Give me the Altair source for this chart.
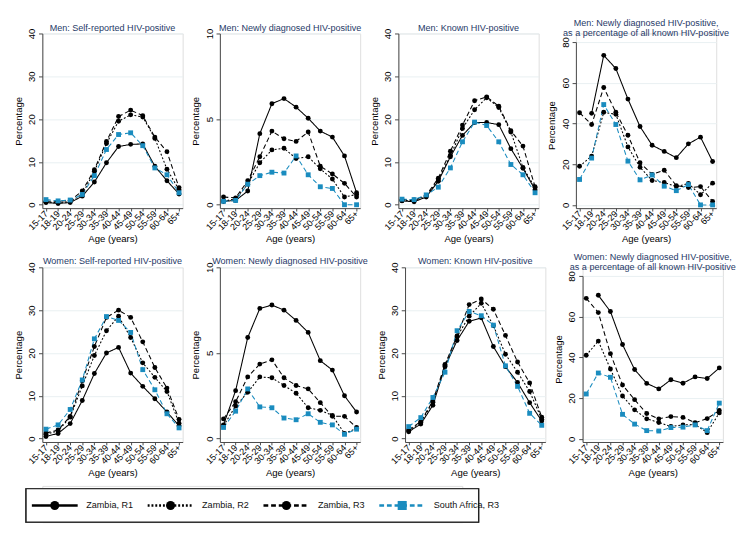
import altair as alt
import pandas as pd

ages = ["15-17", "18-19", "20-24", "25-29", "30-34", "35-39",
        "40-44", "45-49", "50-54", "55-59", "60-64", "65+"]
series_names = ["Zambia, R1", "Zambia, R2", "Zambia, R3", "South Africa, R3"]
colors = ["#000000", "#000000", "#000000", "#1a8cbf"]
dashes = [[1, 0], [2, 2], [5, 3], [5, 3]]
shapes = ["circle", "circle", "circle", "square"]

# Men: Self-reported HIV-positive
men_self_r1 = [0.5, 0.3, 0.5, 2.0, 5.3, 9.8, 13.6, 14.1, 14.2, 9.0, 5.6, 2.5]
men_self_r2 = [0.6, 0.5, 0.7, 2.5, 7.8, 14.3, 19.5, 21.0, 20.5, 15.5, 8.3, 3.5]
men_self_r3 = [0.8, 0.8, 1.0, 3.2, 8.2, 14.8, 20.6, 22.1, 20.8, 15.8, 12.4, 4.0]
men_self_sa = [1.2, 0.9, 1.1, 2.4, 6.8, 12.9, 16.4, 16.8, 13.8, 8.6, 7.0, 2.8]

# Men: Newly diagnosed HIV-positive
men_new_r1 = [0.2, 0.25, 0.8, 4.15, 5.9, 6.2, 5.7, 5.05, 4.3, 3.95, 2.85, 0.7]
men_new_r2 = [0.2, 0.35, 1.2, 2.45, 3.2, 3.3, 2.7, 2.8, 2.1, 1.5, 0.45, 0.6]
men_new_r3 = [0.45, 0.4, 1.4, 2.8, 4.3, 3.85, 3.7, 4.25, 2.25, 1.8, 1.25, 0.45]
men_new_sa = [0.2, 0.25, 1.2, 1.7, 1.9, 1.85, 2.85, 1.75, 1.05, 0.95, 0.0, 0.0]

# Men: Known HIV-positive
men_known_r1 = [0.9, 0.7, 1.8, 5.5, 11.2, 16.2, 19.2, 19.2, 18.7, 13.1, 8.5, 3.5]
men_known_r2 = [1.0, 1.0, 2.0, 5.8, 11.5, 17.8, 22.2, 25.0, 22.7, 17.0, 8.7, 4.0]
men_known_r3 = [1.2, 1.1, 2.2, 6.2, 12.5, 18.6, 24.3, 25.2, 23.0, 17.3, 13.7, 4.2]
men_known_sa = [1.3, 1.2, 2.3, 4.1, 8.6, 14.7, 19.3, 18.5, 14.7, 9.4, 7.0, 2.8]

# Men: Newly diagnosed as % of all known
men_pct_r1 = [None, 45.0, 73.5, 67.0, 52.0, 38.5, 29.3, 26.3, 23.2, 30.0, 33.3, 21.3]
men_pct_r2 = [19.0, 24.0, 45.5, 44.5, 28.5, 18.5, 12.0, 11.0, 9.0, 10.5, 5.0, 10.7]
men_pct_r3 = [45.3, 39.5, 57.7, 45.5, 34.2, 20.7, 15.0, 17.0, 9.5, 8.5, 9.0, 1.7]
men_pct_sa = [12.5, 23.0, 49.3, 39.5, 21.5, 12.3, 14.7, 9.2, 7.0, 10.0, 0.0, 0.0]

# Women: Self-reported HIV-positive
wom_self_r1 = [0.5, 1.2, 3.5, 8.9, 15.2, 20.0, 21.3, 15.3, 12.2, 9.3, 6.2, 3.0]
wom_self_r2 = [1.0, 1.8, 5.0, 12.3, 19.4, 25.2, 28.6, 23.6, 17.7, 14.3, 11.0, 3.6]
wom_self_r3 = [1.3, 2.0, 5.2, 13.5, 21.5, 28.3, 30.0, 28.3, 22.6, 16.6, 11.8, 4.5]
wom_self_sa = [2.2, 3.2, 6.8, 13.7, 23.3, 28.5, 27.6, 24.8, 16.1, 11.4, 5.8, 2.5]

# Women: Newly diagnosed HIV-positive
wom_new_r1 = [0.8, 2.8, 5.9, 7.6, 7.8, 7.5, 6.9, 6.2, 4.55, 4.0, 2.5, 1.55]
wom_new_r2 = [0.75, 1.9, 2.7, 3.6, 3.55, 3.1, 2.65, 1.8, 1.65, 1.35, 0.3, 0.6]
wom_new_r3 = [1.15, 2.15, 3.6, 4.35, 4.6, 3.55, 3.1, 2.9, 2.1, 1.3, 1.3, 0.65]
wom_new_sa = [0.65, 1.6, 2.9, 1.85, 1.8, 1.2, 1.1, 1.45, 0.95, 0.8, 0.25, 0.55]

# Women: Known HIV-positive
wom_known_r1 = [1.6, 3.4, 7.8, 16.8, 22.9, 27.4, 28.2, 21.5, 16.8, 13.1, 8.4, 4.1]
wom_known_r2 = [1.8, 3.8, 8.5, 17.0, 23.8, 28.6, 31.6, 26.4, 19.7, 15.5, 11.0, 4.5]
wom_known_r3 = [2.0, 4.0, 8.8, 17.3, 24.0, 31.3, 32.6, 30.2, 24.1, 17.9, 13.0, 5.0]
wom_known_sa = [2.8, 4.9, 9.6, 15.5, 25.2, 29.7, 28.7, 26.5, 17.0, 12.2, 5.9, 3.1]

# Women: Newly diagnosed as % of all known
wom_pct_r1 = [None, 70.5, 62.5, 46.3, 34.0, 27.2, 24.5, 29.0, 27.3, 30.4, 29.6, 34.8]
wom_pct_r2 = [41.0, 48.0, 34.3, 21.0, 14.2, 9.8, 8.0, 6.0, 6.8, 7.0, 3.0, 12.7]
wom_pct_r3 = [69.0, 62.0, 41.8, 26.4, 19.2, 12.4, 9.8, 10.9, 10.5, 7.9, 9.9, 13.9]
wom_pct_sa = [22.0, 32.3, 30.2, 12.0, 7.2, 4.0, 3.8, 5.5, 5.7, 6.8, 4.0, 17.5]

FONT = "Liberation Sans Narrow, Liberation Sans, Arial, sans-serif"
TITLE_COLOR = "#1f3a68"
GRID = "#e8eff1"

color_scale = alt.Scale(domain=series_names, range=colors)
dash_scale = alt.Scale(domain=series_names, range=dashes)
shape_scale = alt.Scale(domain=series_names, range=shapes)

W = 147
H = 183


def panel(title, ymax, tick_step, values, two_line=False):
    rows = []
    for name, vals in zip(series_names, values):
        for a, v in zip(ages, vals):
            if v is not None:
                rows.append({"age": a, "series": name, "value": v})
    df = pd.DataFrame(rows)
    ticks = [tick_step * i for i in range(int(round(ymax / tick_step)) + 1)]
    x = alt.X("age:N", sort=ages,
              scale=alt.Scale(type="point", padding=0.3),
              axis=alt.Axis(title="Age (years)", labelAngle=-45, labelAlign="right",
                            labelBaseline="middle", labelFontSize=9.5, tickSize=3,
                            labelPadding=1, titlePadding=3, titleFontSize=10,
                            titleFontWeight="normal",
                            domainColor="#444444", tickColor="#444444", grid=False))
    yscale = alt.Scale(domain=[-ymax * 0.02, ymax], nice=False, zero=False)
    if two_line:
        yscale = alt.Scale(domain=[-ymax * 0.02, ymax], nice=False, zero=False,
                           range=[H, 9])
    y = alt.Y("value:Q", scale=yscale,
              axis=alt.Axis(title="Percentage", values=ticks, labelAngle=-90,
                            labelAlign="center", labelBaseline="bottom",
                            labelFontSize=10, tickSize=4, labelPadding=2,
                            titlePadding=4, titleFontSize=10, titleFontWeight="normal",
                            grid=True, gridColor=GRID, domainColor="#444444",
                            tickColor="#444444"))
    base = alt.Chart(df).encode(
        x=x, y=y,
        color=alt.Color("series:N", scale=color_scale, legend=None),
    )
    lines = base.mark_line(strokeWidth=1.1).encode(
        strokeDash=alt.StrokeDash("series:N", scale=dash_scale, legend=None),
        detail="series:N",
    )
    points = base.mark_point(filled=True, size=26, opacity=1).encode(
        shape=alt.Shape("series:N", scale=shape_scale, legend=None),
    )
    return alt.layer(lines, points).properties(
        width=W, height=H,
        title=alt.TitleParams(text=title, fontSize=9.5, font=FONT, fontWeight="normal",
                              color=TITLE_COLOR, anchor="middle",
                              offset=-4, lineHeight=10.5),
    )


row1 = alt.hconcat(
    panel("Men: Self-reported HIV-positive", 40, 10,
          [men_self_r1, men_self_r2, men_self_r3, men_self_sa]),
    panel("Men: Newly diagnosed HIV-positive", 10, 5,
          [men_new_r1, men_new_r2, men_new_r3, men_new_sa]),
    panel("Men: Known HIV-positive", 40, 10,
          [men_known_r1, men_known_r2, men_known_r3, men_known_sa]),
    panel(["Men: Newly diagnosed HIV-positive,", "as a percentage of all known HIV-positive"],
          80, 20, [men_pct_r1, men_pct_r2, men_pct_r3, men_pct_sa], two_line=True),
    spacing=7,
)
row2 = alt.hconcat(
    panel("Women: Self-reported HIV-positive", 40, 10,
          [wom_self_r1, wom_self_r2, wom_self_r3, wom_self_sa]),
    panel("Women: Newly diagnosed HIV-positive", 10, 5,
          [wom_new_r1, wom_new_r2, wom_new_r3, wom_new_sa]),
    panel("Women: Known HIV-positive", 40, 10,
          [wom_known_r1, wom_known_r2, wom_known_r3, wom_known_sa]),
    panel(["Women: Newly diagnosed HIV-positive,", "as a percentage of all known HIV-positive"],
          80, 20, [wom_pct_r1, wom_pct_r2, wom_pct_r3, wom_pct_sa], two_line=True),
    spacing=7,
)

# Legend panel
LY = 20.5
leg_df = pd.DataFrame({"series": series_names})
lx = alt.X("series:N", sort=series_names,
           scale=alt.Scale(type="point", range=[13, 377], padding=0), axis=None)
box = alt.Chart(leg_df).mark_rect(fill="white", stroke="#222222", strokeWidth=1.2).encode(
    x=alt.value(-17), x2=alt.value(457), y=alt.value(3), y2=alt.value(38)
)
leg_lines = alt.Chart(leg_df).mark_rule(strokeWidth=2.5, xOffset=-24, x2Offset=24).encode(
    x=lx, x2="series:N", y=alt.value(LY),
    color=alt.Color("series:N", scale=color_scale, legend=None),
    strokeDash=alt.StrokeDash("series:N", scale=dash_scale, legend=None),
)
leg_points = alt.Chart(leg_df).mark_point(filled=True, size=90, opacity=1).encode(
    x=lx, y=alt.value(LY),
    color=alt.Color("series:N", scale=color_scale, legend=None),
    shape=alt.Shape("series:N", scale=shape_scale, legend=None),
)
leg_text = alt.Chart(leg_df).mark_text(align="left", baseline="middle", dx=33,
                                        fontSize=9.5, font=FONT, color="#111111").encode(
    x=lx, y=alt.value(LY), text="series:N"
)
legend = alt.layer(box, leg_lines, leg_points, leg_text).properties(width=440, height=38)

chart = alt.vconcat(row1, row2, legend, spacing=7).configure_view(
    stroke=None
).configure_axis(
    labelFont=FONT, titleFont=FONT, labelColor="#111111", titleColor="#111111",
    titleFontWeight="normal"
).configure(background="white",
            padding={"left": 5, "top": -3, "right": 5, "bottom": 5})

chart.save("out.html", embed_options={"renderer": "svg", "actions": False})
